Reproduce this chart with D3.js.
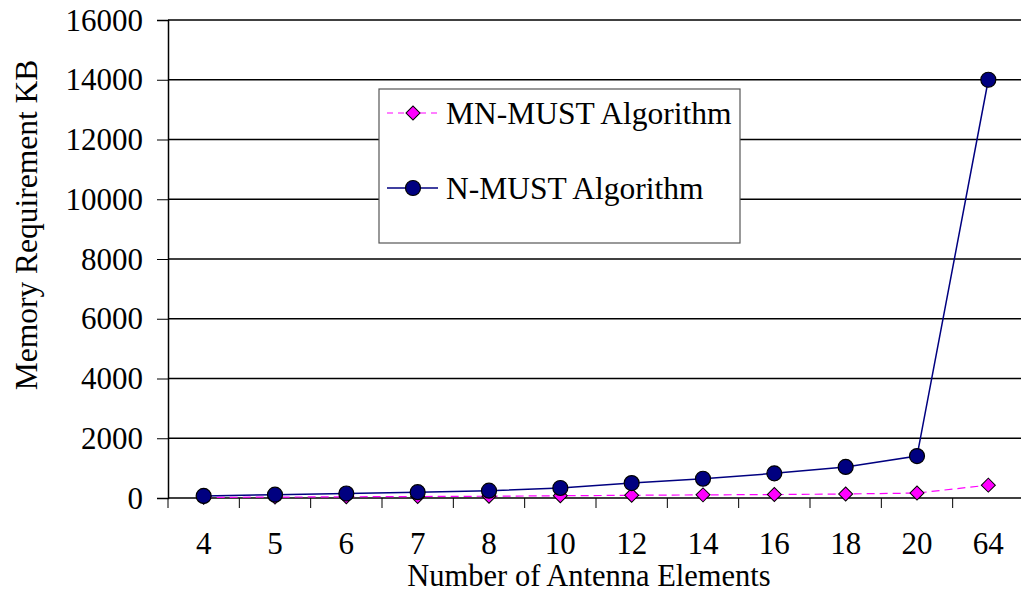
<!DOCTYPE html>
<html>
<head>
<meta charset="utf-8">
<script src="https://cdn.jsdelivr.net/npm/d3@7"></script>
<style>
  html, body { margin: 0; padding: 0; background: #fff; }
  svg { display: block; font-family: "Liberation Serif", "Times New Roman", serif; }
</style>
</head>
<body>
<svg id="chart" width="1021" height="596"></svg>
<script>
// Antenna element counts (categorical x axis)
const categories = ["4", "5", "6", "7", "8", "10", "12", "14", "16", "18", "20", "64"];
// Memory requirement in KB for each algorithm
const mnMust = [20, 30, 40, 50, 60, 75, 90, 105, 115, 135, 165, 430];
const nMust  = [70, 110, 150, 195, 245, 335, 500, 645, 825, 1040, 1405, 14000];
const yTicks = [0, 2000, 4000, 6000, 8000, 10000, 12000, 14000, 16000];
const seriesNames = ["MN-MUST Algorithm", "N-MUST Algorithm"];

const svg = d3.select("#chart");
const plotLeft = 168, plotRight = 1024, plotTop = 20, plotBottom = 498;

const x = d3.scaleBand().domain(categories).range([plotLeft, plotRight]).padding(0);
const y = d3.scaleLinear().domain([0, 16000]).range([plotBottom, plotTop]);
const cx = d => x(d) + x.bandwidth() / 2;

// Horizontal gridlines
svg.append("g").selectAll("line").data(yTicks.filter(v => v > 0)).join("line")
  .attr("x1", plotLeft).attr("x2", 1021)
  .attr("y1", d => y(d)).attr("y2", d => y(d))
  .attr("stroke", "#000").attr("stroke-width", 1.3);

// Y axis
const yAxis = d3.axisLeft(y).tickValues(yTicks).tickSize(11).tickPadding(14).tickFormat(d3.format("d"));
const gy = svg.append("g").attr("transform", `translate(${plotLeft},0)`).call(yAxis);
gy.select(".domain").attr("stroke", "#000").attr("stroke-width", 1.5);
gy.selectAll(".tick line").attr("stroke", "#000").attr("stroke-width", 1);
gy.selectAll(".tick text").attr("font-size", 31).attr("fill", "#000")
  .attr("font-family", "Liberation Serif").attr("dy", "0.33em");

// X axis: ticks sit between categories
const gx = svg.append("g").attr("transform", `translate(0,${plotBottom})`);
gx.append("line").attr("x1", plotLeft).attr("x2", 1021).attr("y1", 0).attr("y2", 0)
  .attr("stroke", "#000").attr("stroke-width", 1.5);
gx.selectAll("line.tk").data(categories).join("line").attr("class", "tk")
  .attr("x1", d => x(d)).attr("x2", d => x(d)).attr("y1", 0).attr("y2", 10)
  .attr("stroke", "#000").attr("stroke-width", 1);
gx.selectAll("text").data(categories).join("text")
  .attr("x", d => cx(d)).attr("y", 56)
  .attr("text-anchor", "middle").attr("font-size", 31).attr("fill", "#000")
  .text(d => d);

// Axis titles
svg.append("text").attr("x", 589).attr("y", 586)
  .attr("text-anchor", "middle").attr("font-size", 30.5).text("Number of Antenna Elements");
svg.append("text").attr("transform", "translate(37,225) rotate(-90)")
  .attr("text-anchor", "middle").attr("font-size", 31.5).text("Memory Requirement KB");

// MN-MUST series (dashed magenta with diamonds)
const line = d3.line().x((d, i) => cx(categories[i])).y(d => y(d));
svg.append("path").datum(mnMust).attr("d", line)
  .attr("fill", "none").attr("stroke", "#FF00FF").attr("stroke-width", 1.2)
  .attr("stroke-dasharray", "8,5");
const diamond = d3.symbol().type(d3.symbolSquare).size(98);
svg.append("g").selectAll("path").data(mnMust).join("path")
  .attr("d", diamond)
  .attr("transform", (d, i) => `translate(${cx(categories[i])},${y(d)}) rotate(45)`)
  .attr("fill", "#FF00FF").attr("stroke", "#000").attr("stroke-width", 1);

// N-MUST series (solid navy with circles)
svg.append("path").datum(nMust).attr("d", line)
  .attr("fill", "none").attr("stroke", "#000080").attr("stroke-width", 1.5);
svg.append("g").selectAll("circle").data(nMust).join("circle")
  .attr("cx", (d, i) => cx(categories[i])).attr("cy", d => y(d)).attr("r", 7.5)
  .attr("fill", "#000080").attr("stroke", "#000").attr("stroke-width", 1.2);

// Legend
const lg = svg.append("g");
lg.append("rect").attr("x", 379).attr("y", 89).attr("width", 361).attr("height", 154)
  .attr("fill", "#fff").attr("stroke", "#555").attr("stroke-width", 1.2);
const rows = [
  { name: seriesNames[0], yy: 113, color: "#FF00FF", dash: "6,5", shape: "diamond" },
  { name: seriesNames[1], yy: 188, color: "#000080", dash: null, shape: "circle" }
];
rows.forEach(r => {
  const ln = lg.append("line").attr("x1", 387).attr("x2", 438).attr("y1", r.yy).attr("y2", r.yy)
    .attr("stroke", r.color).attr("stroke-width", r.shape === "circle" ? 1.5 : 1.2);
  if (r.dash) ln.attr("stroke-dasharray", r.dash);
  if (r.shape === "diamond") {
    lg.append("path").attr("d", diamond).attr("transform", `translate(413,${r.yy}) rotate(45)`)
      .attr("fill", r.color).attr("stroke", "#000").attr("stroke-width", 1);
  } else {
    lg.append("circle").attr("cx", 413).attr("cy", r.yy).attr("r", 7.5)
      .attr("fill", r.color).attr("stroke", "#000").attr("stroke-width", 1.2);
  }
  lg.append("text").attr("x", 446).attr("y", r.yy + 10.5).attr("font-size", 31.5).text(r.name);
});
</script>
</body>
</html>
